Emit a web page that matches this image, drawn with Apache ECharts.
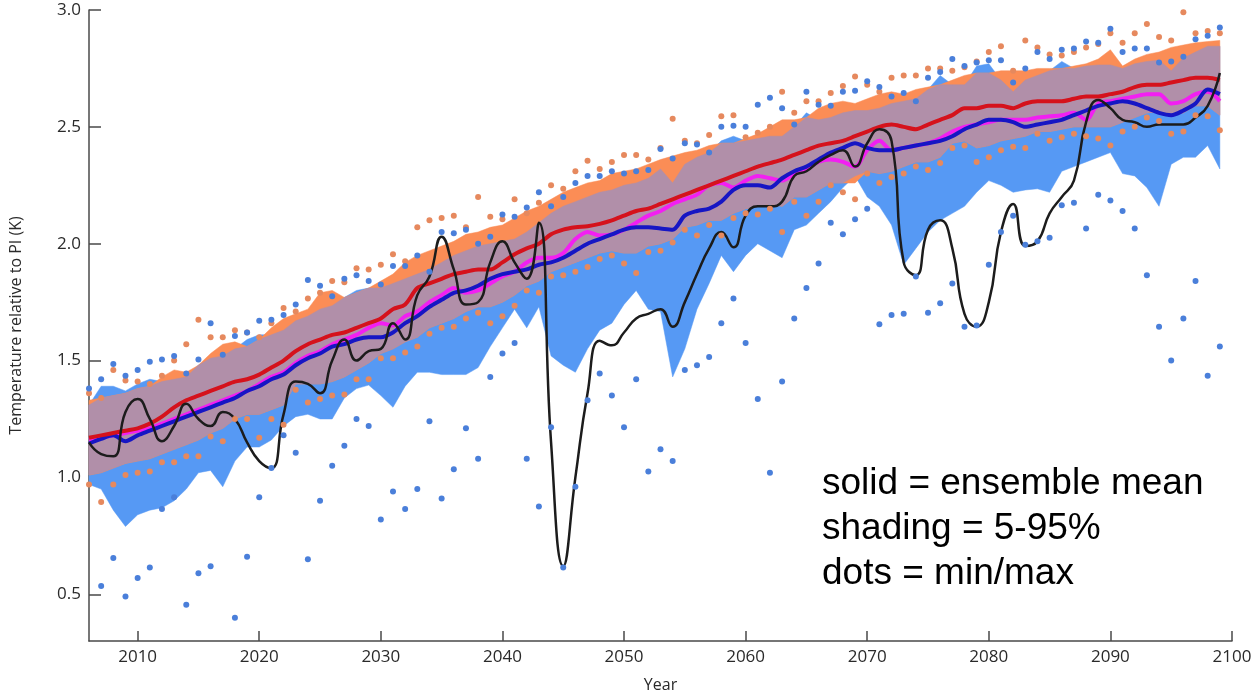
<!DOCTYPE html>
<html><head><meta charset="utf-8">
<script src="https://cdn.jsdelivr.net/npm/echarts@6/dist/echarts.min.js"></script>
<style>html,body{margin:0;padding:0;background:#fff}#c{width:1255px;height:698px}</style>
</head><body><div id="c"></div><script>
const years = [
2006,2007,2008,2009,2010,2011,2012,2013,2014,2015,
2016,2017,2018,2019,2020,2021,2022,2023,2024,2025,
2026,2027,2028,2029,2030,2031,2032,2033,2034,2035,
2036,2037,2038,2039,2040,2041,2042,2043,2044,2045,
2046,2047,2048,2049,2050,2051,2052,2053,2054,2055,
2056,2057,2058,2059,2060,2061,2062,2063,2064,2065,
2066,2067,2068,2069,2070,2071,2072,2073,2074,2075,
2076,2077,2078,2079,2080,2081,2082,2083,2084,2085,
2086,2087,2088,2089,2090,2091,2092,2093,2094,2095,
2096,2097,2098,2099];
const xTicks = [2010,2020,2030,2040,2050,2060,2070,2080,2090,2100];
const yTicks = [0.5,1.0,1.5,2.0,2.5,3.0];

// orange ensemble 5-95% band
const orangeHi = [
1.33,1.34,1.35,1.36,1.38,1.39,1.43,1.46,1.45,1.48,
1.53,1.57,1.58,1.56,1.59,1.64,1.68,1.70,1.72,1.79,
1.80,1.77,1.79,1.81,1.84,1.87,1.92,1.95,1.97,1.99,
2.01,2.04,2.05,2.07,2.08,2.11,2.14,2.16,2.19,2.22,
2.24,2.26,2.27,2.30,2.31,2.32,2.34,2.36,2.375,2.39,
2.40,2.42,2.43,2.43,2.45,2.47,2.50,2.53,2.53,2.54,
2.58,2.60,2.61,2.60,2.62,2.64,2.65,2.64,2.66,2.67,
2.68,2.70,2.72,2.73,2.73,2.74,2.74,2.74,2.75,2.75,
2.75,2.76,2.77,2.79,2.83,2.76,2.79,2.81,2.82,2.84,
2.85,2.86,2.865,2.87];
const orangeLo = [
1.01,1.02,1.04,1.06,1.07,1.08,1.10,1.12,1.14,1.16,
1.19,1.21,1.25,1.27,1.27,1.29,1.31,1.40,1.40,1.40,
1.41,1.43,1.46,1.49,1.53,1.55,1.58,1.60,1.64,1.66,
1.68,1.71,1.73,1.73,1.75,1.78,1.82,1.84,1.88,1.90,
1.92,1.94,1.96,1.97,1.96,1.96,1.99,2.00,2.02,2.07,
2.08,2.10,2.10,2.13,2.15,2.16,2.17,2.16,2.20,2.20,
2.23,2.26,2.26,2.26,2.31,2.30,2.31,2.33,2.35,2.35,
2.37,2.43,2.44,2.41,2.42,2.44,2.45,2.46,2.48,2.48,
2.49,2.50,2.50,2.50,2.50,2.52,2.54,2.56,2.565,2.55,
2.56,2.59,2.59,2.55];
// blue ensemble 5-95% band
const blueHi = [
1.31,1.39,1.39,1.37,1.40,1.42,1.41,1.42,1.43,1.48,
1.51,1.52,1.55,1.59,1.61,1.61,1.63,1.67,1.69,1.72,
1.735,1.77,1.80,1.81,1.81,1.83,1.85,1.87,1.89,1.92,
1.95,1.97,1.99,2.00,2.01,2.02,2.05,2.09,2.13,2.16,
2.18,2.20,2.22,2.23,2.25,2.26,2.28,2.32,2.26,2.34,
2.37,2.39,2.44,2.46,2.44,2.45,2.46,2.46,2.50,2.56,
2.53,2.54,2.56,2.57,2.57,2.58,2.60,2.61,2.62,2.66,
2.72,2.68,2.68,2.76,2.77,2.70,2.65,2.70,2.72,2.74,
2.78,2.75,2.76,2.765,2.765,2.75,2.77,2.78,2.785,2.74,
2.795,2.82,2.845,2.845];
const blueLo = [
0.97,0.95,0.86,0.79,0.84,0.86,0.87,0.90,0.95,1.02,
1.03,0.96,1.07,1.13,1.13,1.16,1.22,1.26,1.27,1.25,
1.25,1.34,1.38,1.395,1.35,1.30,1.39,1.45,1.45,1.44,
1.44,1.44,1.47,1.56,1.64,1.72,1.64,1.73,1.52,1.48,
1.45,1.55,1.63,1.66,1.74,1.80,1.72,1.71,1.43,1.55,
1.72,1.83,1.95,1.88,1.95,2.00,1.97,1.94,2.06,2.08,
2.13,2.18,2.24,2.29,2.20,2.16,2.08,1.91,1.98,2.05,
2.10,2.13,2.16,2.22,2.27,2.25,2.22,2.23,2.235,2.22,
2.31,2.33,2.35,2.37,2.39,2.30,2.29,2.24,2.16,2.34,
2.37,2.37,2.42,2.32];
// ensemble means and single runs
const redMean = [
1.17,1.18,1.19,1.20,1.21,1.23,1.26,1.30,1.33,1.35,
1.37,1.39,1.41,1.42,1.44,1.47,1.50,1.54,1.57,1.59,
1.61,1.62,1.64,1.66,1.68,1.72,1.74,1.81,1.83,1.85,
1.87,1.88,1.89,1.89,1.92,1.955,1.98,2.00,2.04,2.06,
2.07,2.075,2.085,2.10,2.12,2.14,2.15,2.17,2.19,2.21,
2.23,2.25,2.27,2.29,2.31,2.33,2.345,2.36,2.38,2.40,
2.42,2.43,2.44,2.46,2.48,2.50,2.51,2.50,2.49,2.51,
2.53,2.55,2.58,2.58,2.59,2.59,2.58,2.60,2.61,2.61,
2.61,2.62,2.63,2.63,2.64,2.65,2.67,2.68,2.68,2.69,
2.70,2.71,2.71,2.70];
const blueMean = [
1.145,1.165,1.18,1.155,1.18,1.20,1.22,1.24,1.26,1.28,
1.30,1.32,1.34,1.37,1.39,1.42,1.44,1.48,1.51,1.53,
1.56,1.57,1.59,1.60,1.60,1.62,1.66,1.69,1.73,1.76,
1.79,1.80,1.82,1.85,1.87,1.88,1.89,1.91,1.92,1.94,
1.97,2.00,2.02,2.04,2.06,2.07,2.07,2.065,2.06,2.12,
2.14,2.15,2.18,2.23,2.25,2.25,2.24,2.28,2.31,2.33,
2.36,2.39,2.41,2.43,2.41,2.40,2.40,2.41,2.42,2.43,
2.44,2.46,2.49,2.51,2.53,2.53,2.52,2.50,2.51,2.52,
2.53,2.55,2.57,2.59,2.60,2.61,2.60,2.58,2.56,2.55,
2.57,2.60,2.66,2.64];
const magentaRun = [
1.16,1.17,1.18,1.19,1.20,1.21,1.23,1.25,1.27,1.29,
1.31,1.33,1.35,1.37,1.40,1.43,1.45,1.49,1.52,1.54,
1.57,1.59,1.61,1.64,1.66,1.65,1.69,1.71,1.75,1.78,
1.81,1.79,1.80,1.83,1.86,1.88,1.92,1.94,1.94,1.96,
2.02,2.05,2.035,2.04,2.06,2.09,2.12,2.14,2.17,2.19,
2.21,2.25,2.26,2.24,2.27,2.29,2.28,2.27,2.30,2.32,
2.35,2.36,2.35,2.33,2.40,2.44,2.40,2.41,2.42,2.43,
2.45,2.48,2.50,2.51,2.52,2.53,2.53,2.53,2.54,2.545,
2.55,2.56,2.53,2.60,2.61,2.62,2.63,2.64,2.64,2.60,
2.61,2.64,2.65,2.61];
const blackRun = [
1.15,1.10,1.09,1.28,1.335,1.25,1.155,1.22,1.315,1.25,
1.22,1.28,1.25,1.15,1.07,1.04,1.27,1.41,1.40,1.36,
1.50,1.59,1.50,1.54,1.55,1.66,1.59,1.78,1.86,2.03,
1.89,1.74,1.75,1.92,2.01,1.92,1.85,2.09,1.15,0.62,
1.00,1.36,1.585,1.565,1.62,1.68,1.70,1.72,1.645,1.75,
1.87,1.98,2.05,1.985,2.12,2.16,2.16,2.18,2.29,2.31,
2.35,2.38,2.40,2.33,2.43,2.49,2.44,1.92,1.865,2.06,
2.10,1.98,1.70,1.645,1.75,2.05,2.17,1.99,2.01,2.13,
2.20,2.27,2.52,2.615,2.58,2.53,2.52,2.50,2.51,2.51,
2.51,2.54,2.59,2.73];
// min / max dots
const orangeMax = [
1.36,1.34,1.46,1.415,1.41,1.40,1.435,1.50,1.57,1.675,
1.60,1.60,1.63,1.62,1.60,1.66,1.725,1.71,1.765,1.79,
1.84,1.835,1.895,1.89,1.91,1.955,1.925,2.07,2.10,2.11,
2.12,2.07,2.20,2.115,2.105,2.19,2.13,2.175,2.25,2.235,
2.31,2.355,2.32,2.35,2.38,2.38,2.36,2.41,2.535,2.44,
2.43,2.465,2.545,2.55,2.455,2.475,2.50,2.65,2.56,2.61,
2.61,2.645,2.675,2.715,2.68,2.65,2.71,2.72,2.72,2.75,
2.75,2.74,2.755,2.78,2.82,2.845,2.74,2.87,2.84,2.81,
2.805,2.82,2.84,2.855,2.90,2.86,2.90,2.94,2.885,2.87,
2.99,2.90,2.91,2.90];
const orangeMin = [
0.97,0.895,0.97,1.01,1.02,1.025,1.065,1.065,1.09,1.09,
1.175,1.155,1.25,1.25,1.17,1.25,1.225,1.375,1.32,1.335,
1.35,1.355,1.42,1.42,1.51,1.51,1.535,1.56,1.615,1.64,
1.645,1.68,1.705,1.66,1.69,1.735,1.80,1.79,1.86,1.865,
1.88,1.90,1.935,1.95,1.915,1.875,1.965,1.97,2.005,2.06,
2.035,2.08,2.035,2.11,2.13,2.125,2.15,2.05,2.18,2.12,
2.18,2.25,2.22,2.19,2.30,2.26,2.285,2.30,2.33,2.315,
2.345,2.41,2.42,2.35,2.37,2.40,2.415,2.41,2.47,2.44,
2.455,2.47,2.46,2.45,2.42,2.48,2.50,2.54,2.525,2.47,
2.48,2.55,2.545,2.485];
const blueMax = [
1.38,1.42,1.485,1.435,1.46,1.495,1.505,1.52,1.445,1.505,
1.66,1.525,1.605,1.62,1.67,1.675,1.695,1.74,1.845,1.82,
1.775,1.85,1.865,1.84,1.825,1.905,1.905,1.95,1.88,2.05,
2.045,2.06,2.00,2.03,2.125,2.115,2.155,2.22,2.16,2.20,
2.26,2.29,2.29,2.31,2.30,2.31,2.315,2.405,2.365,2.43,
2.425,2.39,2.50,2.505,2.50,2.595,2.625,2.58,2.51,2.65,
2.595,2.59,2.65,2.655,2.695,2.67,2.63,2.645,2.61,2.71,
2.735,2.79,2.76,2.775,2.785,2.785,2.69,2.75,2.82,2.79,
2.83,2.835,2.865,2.86,2.92,2.82,2.835,2.835,2.775,2.78,
2.80,2.875,2.89,2.925];
const blueMin = [
null,0.535,0.655,0.49,0.57,0.615,0.865,0.915,0.455,0.59,
0.62,null,0.40,0.66,0.915,1.04,1.18,1.105,0.65,0.90,
1.05,1.135,1.25,1.22,0.82,0.94,0.865,0.95,1.24,0.91,
1.035,1.21,1.08,1.43,1.53,1.575,1.08,0.875,1.215,0.615,
0.96,1.33,1.445,1.35,1.215,1.42,1.025,1.12,1.07,1.46,
1.48,1.515,1.66,1.765,1.575,1.335,1.02,1.41,1.68,1.81,
1.915,2.09,2.04,2.105,2.15,1.655,1.695,1.70,1.86,1.705,
1.745,1.83,1.645,1.65,1.91,2.05,2.12,1.995,2.01,2.025,
2.165,2.175,2.065,2.21,2.185,2.14,2.065,1.865,1.645,1.50,
1.68,1.84,1.435,1.56];

const C = {
  blueBand:'#5699f4', orangeBand:'#fb8d56', overlap:'#b18fa9',
  red:'#d5121c', blue:'#1616c4', magenta:'#f21ff2', black:'#1c1c1c',
  orangeDot:'#e6895e', blueDot:'#4a7fda'
};

function pairs(vals){ return years.map((y,i)=> vals[i]==null ? null : [y, vals[i]]).filter(Boolean); }
function band(lo, hi){ return years.map((y,i)=>[y, lo[i], hi[i]]); }
const overlapLo = orangeLo.map((v,i)=>Math.max(v, blueLo[i]));
const overlapHi = orangeHi.map((v,i)=>Math.min(v, blueHi[i]));

function bandSeries(name, data, color){
  return {
    type:'custom', name, z:1, silent:true, data,
    encode:{x:0, y:[1,2]},
    renderItem(params, api){
      if (params.dataIndexInside !== 0) return null;
      const n = params.dataInsideLength;
      const top = [], bot = [];
      for (let i=0;i<n;i++){
        const x = api.value(0,i);
        top.push(api.coord([x, api.value(2,i)]));
        bot.push(api.coord([x, api.value(1,i)]));
      }
      return {type:'polygon', shape:{points: top.concat(bot.reverse())},
              style:{fill:color, stroke:color, lineWidth:0.5}};
    }
  };
}
function lineSeries(name, vals, color, width, smooth, z){
  return {type:'line', name, data:pairs(vals), symbol:'none', smooth, z,
          lineStyle:{color, width}, silent:true};
}
function dotSeries(name, vals, color){
  return {type:'scatter', name, data:pairs(vals), symbolSize:6, z:6,
          itemStyle:{color, opacity:1}, silent:true};
}

const labelFont = {fontFamily:'Open Sans', fontSize:17, color:'#2a2a2a'};
const chart = echarts.init(document.getElementById('c'));
chart.setOption({
  animation:false,
  backgroundColor:'#ffffff',
  grid:{left:88, right:23, top:10, bottom:55},
  xAxis:{
    type:'value', min:2006, max:2100,
    name:'Year', nameLocation:'middle', nameGap:36,
    nameTextStyle:{fontFamily:'Open Sans', fontSize:16, color:'#2a2a2a'},
    axisLine:{lineStyle:{color:'#4a4a4a', width:1.5}},
    axisTick:{inside:true, length:10, customValues:xTicks, lineStyle:{color:'#4a4a4a', width:1.5}},
    axisLabel:Object.assign({customValues:xTicks, margin:8, formatter:v=>String(v)}, labelFont),
    splitLine:{show:false}
  },
  yAxis:{
    type:'value', min:0.3, max:3.0,
    name:'Temperature relative to PI (K)', nameLocation:'middle', nameGap:65,
    nameTextStyle:{fontFamily:'Open Sans', fontSize:16, color:'#2a2a2a'},
    axisLine:{show:true, lineStyle:{color:'#4a4a4a', width:1.5}},
    axisTick:{show:true, inside:true, length:12, customValues:yTicks, lineStyle:{color:'#4a4a4a', width:1.5}},
    axisLabel:Object.assign({customValues:yTicks, margin:8, formatter:v=>v.toFixed(1)}, labelFont),
    splitLine:{show:false}
  },
  graphic:[
    {type:'text', x:822, y:484, style:{text:'solid = ensemble mean', font:'37px "Liberation Sans"', fill:'#000', verticalAlign:'middle', align:'left'}},
    {type:'text', x:822, y:529, style:{text:'shading = 5-95%', font:'37px "Liberation Sans"', fill:'#000', verticalAlign:'middle', align:'left'}},
    {type:'text', x:822, y:574, style:{text:'dots = min/max', font:'37px "Liberation Sans"', fill:'#000', verticalAlign:'middle', align:'left'}}
  ],
  series:[
    bandSeries('blue 5-95%', band(blueLo, blueHi), C.blueBand),
    bandSeries('orange 5-95%', band(orangeLo, orangeHi), C.orangeBand),
    bandSeries('overlap', band(overlapLo, overlapHi), C.overlap),
    lineSeries('magenta run', magentaRun, C.magenta, 4, 0.3, 3),
    lineSeries('blue mean', blueMean, C.blue, 4, 0.3, 4),
    lineSeries('red mean', redMean, C.red, 4, 0.3, 4),
    lineSeries('black run', blackRun, C.black, 2.5, 0.5, 5),
    dotSeries('orange max', orangeMax, C.orangeDot),
    dotSeries('orange min', orangeMin, C.orangeDot),
    dotSeries('blue max', blueMax, C.blueDot),
    dotSeries('blue min', blueMin, C.blueDot)
  ]
});
</script></body></html>
